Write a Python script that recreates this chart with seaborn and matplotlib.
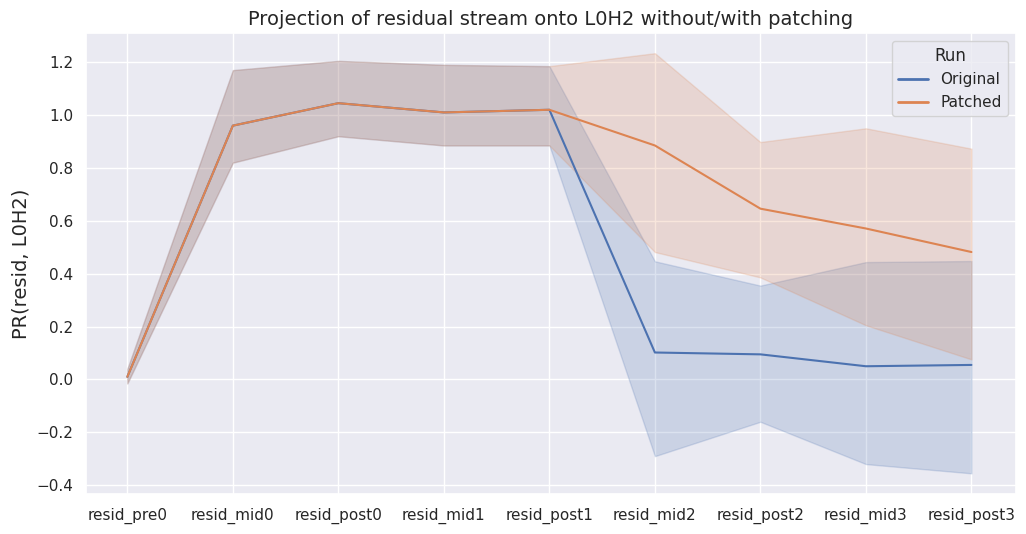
import numpy as np
import pandas as pd
import matplotlib
matplotlib.use("Agg")
import matplotlib.pyplot as plt
import seaborn as sns

# layers along the residual stream
layers = ["resid_pre0", "resid_mid0", "resid_post0", "resid_mid1", "resid_post1",
          "resid_mid2", "resid_post2", "resid_mid3", "resid_post3"]

# mean projection and band bounds per run
orig_mean = [0.01, 0.96, 1.045, 1.01, 1.02, 0.102, 0.095, 0.05, 0.055]
orig_low = [-0.015, 0.82, 0.92, 0.885, 0.885, -0.29, -0.16, -0.32, -0.355]
orig_high = [0.04, 1.17, 1.205, 1.19, 1.185, 0.447, 0.355, 0.444, 0.448]

patch_mean = [0.01, 0.96, 1.045, 1.01, 1.02, 0.885, 0.646, 0.571, 0.482]
patch_low = [-0.015, 0.82, 0.92, 0.885, 0.885, 0.482, 0.386, 0.205, 0.076]
patch_high = [0.04, 1.17, 1.205, 1.19, 1.185, 1.234, 0.898, 0.95, 0.873]

runs = ["Original", "Patched"]

df = pd.DataFrame({
    "layer": layers * 2,
    "value": orig_mean + patch_mean,
    "Run": [runs[0]] * len(layers) + [runs[1]] * len(layers),
})

sns.set_theme(style="darkgrid")
fig, ax = plt.subplots(figsize=(10.26, 5.34), dpi=100)
fig.subplots_adjust(left=0.084, right=0.99, top=0.938, bottom=0.074)

palette = sns.color_palette()
x = np.arange(len(layers))
ax.fill_between(x, orig_low, orig_high, color=palette[0], alpha=0.2)
ax.fill_between(x, patch_low, patch_high, color=palette[1], alpha=0.2)

df["pos"] = df["layer"].map({l: i for i, l in enumerate(layers)})
sns.lineplot(data=df, x="pos", y="value", hue="Run", ax=ax, sort=False)

ax.set_xticks(x)
ax.set_xticklabels(layers)
ax.set_xlim(-0.39, len(layers) - 1 + 0.42)
ax.set_ylim(-0.435, 1.31)
ax.set_xlabel("")
ax.set_ylabel("PR(resid, L0H2)", fontsize=14)
ax.set_title("Projection of residual stream onto L0H2 without/with patching", fontsize=14)
leg = ax.legend(title="Run", loc="upper right")
for line in leg.get_lines():
    line.set_linewidth(2)

fig.savefig("out.png")
